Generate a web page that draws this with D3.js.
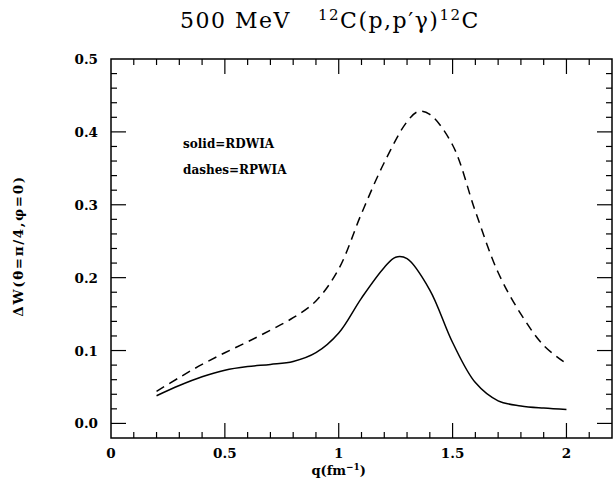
<!DOCTYPE html>
<meta charset="utf-8">
<style>
body { margin: 0; background: #fff; }
svg text { fill: #000; }
.tick-label { font: 600 13.5px "DejaVu Serif", serif; }
.axis-title { font: bold 13px "DejaVu Serif", serif; }
.legend { font: bold 12px "DejaVu Serif", serif; }
.title { font: 22px "DejaVu Serif", serif; letter-spacing: 1.5px; }
</style>
<body>
<script src="https://d3js.org/d3.v7.min.js"></script>
<script>

// values
var qSolid = [0.2, 0.3, 0.4, 0.5, 0.6, 0.7, 0.8, 0.9, 1.0, 1.1, 1.2, 1.25, 1.3, 1.4, 1.5, 1.6, 1.7, 1.8, 1.9, 2.0];
var rdwia  = [0.038, 0.052, 0.064, 0.073, 0.078, 0.081, 0.085, 0.097, 0.124, 0.172, 0.214, 0.228, 0.226, 0.183, 0.111, 0.056, 0.031, 0.024, 0.021, 0.019];

var qDash = [0.2, 0.3, 0.4, 0.5, 0.6, 0.7, 0.8, 0.9, 1.0, 1.1, 1.2, 1.3, 1.35, 1.4, 1.5, 1.6, 1.7, 1.8, 1.9, 2.0];
var rpwia = [0.044, 0.063, 0.081, 0.097, 0.112, 0.128, 0.145, 0.168, 0.212, 0.288, 0.358, 0.414, 0.428, 0.424, 0.382, 0.291, 0.207, 0.150, 0.107, 0.082];

var xTicks = [0, 0.5, 1, 1.5, 2];
var xTickLabels = ["0", "0.5", "1", "1.5", "2"];
var yTicks = [0, 0.1, 0.2, 0.3, 0.4, 0.5];
var yTickLabels = ["0.0", "0.1", "0.2", "0.3", "0.4", "0.5"];

var W = 613, H = 482;
var pLeft = 111, pRight = 612, pTop = 59, pBottom = 438;

var x = d3.scaleLinear().domain([0, 2.2]).range([pLeft, pRight]);
var y = d3.scaleLinear().domain([-0.02, 0.5]).range([pBottom, pTop]);

var svg = d3.select("body").append("svg")
    .attr("width", W)
    .attr("height", H);

// frame
svg.append("rect")
    .attr("x", pLeft).attr("y", pTop)
    .attr("width", pRight - pLeft).attr("height", pBottom - pTop)
    .attr("fill", "none").attr("stroke", "#000").attr("stroke-width", 1.5);

// ticks, inward on all four sides
var xMinor = d3.range(0, 2.2001, 0.1).map(function(d) { return +d.toFixed(2); });
var yMinor = d3.range(-0.02, 0.5001, 0.02).map(function(d) { return +d.toFixed(2); });
function isMajor(v, step) { return Math.abs(v / step - Math.round(v / step)) < 1e-6; }

var ticks = svg.append("g").attr("stroke", "#000").attr("stroke-width", 1.2);
xMinor.forEach(function(v) {
  if (v <= 0 || v >= 2.2) return;
  var len = isMajor(v, 0.5) ? 15 : 6;
  ticks.append("line").attr("x1", x(v)).attr("x2", x(v)).attr("y1", pBottom).attr("y2", pBottom - len);
  ticks.append("line").attr("x1", x(v)).attr("x2", x(v)).attr("y1", pTop).attr("y2", pTop + len);
});
yMinor.forEach(function(v) {
  if (v <= -0.02 || v >= 0.5) return;
  var len = isMajor(v, 0.1) ? 15 : 6;
  ticks.append("line").attr("x1", pLeft).attr("x2", pLeft + len).attr("y1", y(v)).attr("y2", y(v));
  ticks.append("line").attr("x1", pRight).attr("x2", pRight - len).attr("y1", y(v)).attr("y2", y(v));
});

// tick labels
svg.selectAll(".xl")
    .data(xTicks)
  .enter().append("text")
    .attr("class", "tick-label")
    .attr("x", function(d) { return x(d); })
    .attr("y", 458)
    .attr("text-anchor", "middle")
    .text(function(d, i) { return xTickLabels[i]; });

svg.selectAll(".yl")
    .data(yTicks)
  .enter().append("text")
    .attr("class", "tick-label")
    .attr("x", 98)
    .attr("y", function(d) { return y(d) + 5; })
    .attr("text-anchor", "end")
    .text(function(d, i) { return yTickLabels[i]; });

// curves
var line = d3.line()
    .x(function(d) { return x(d[0]); })
    .y(function(d) { return y(d[1]); })
    .curve(d3.curveCatmullRom.alpha(0.5));

svg.append("path")
    .attr("d", line(d3.zip(qSolid, rdwia)))
    .attr("fill", "none").attr("stroke", "#000").attr("stroke-width", 1.5);

svg.append("path")
    .attr("d", line(d3.zip(qDash, rpwia)))
    .attr("fill", "none").attr("stroke", "#000").attr("stroke-width", 1.5)
    .attr("stroke-dasharray", "9,6");

// legend text
svg.append("text").attr("class", "legend").attr("x", 183).attr("y", 148).text("solid=RDWIA");
svg.append("text").attr("class", "legend").attr("x", 183).attr("y", 174).text("dashes=RPWIA");

// axis titles
var xt = svg.append("text").attr("class", "axis-title")
    .attr("x", x(1)).attr("y", 475).attr("text-anchor", "middle");
xt.append("tspan").text("q(fm");
xt.append("tspan").attr("dy", -5).attr("font-size", 9).text("\u22121");
xt.append("tspan").attr("dy", 5).text(")");

svg.append("text").attr("class", "axis-title")
    .attr("transform", "translate(23,246) rotate(-90)")
    .attr("text-anchor", "middle")
    .style("font-size", "13.5px")
    .style("letter-spacing", "1.6px")
    .text("\u0394W(\u03b8=\u03c0/4,\u03c6=0)");

// title
var t = svg.append("text").attr("class", "title").attr("y", 28);
t.append("tspan").attr("x", 180).text("500 MeV");
t.append("tspan").attr("x", 318).attr("dy", -8).attr("font-size", 15).text("12");
t.append("tspan").attr("dy", 8).text("C(p,p\u2032\u03b3)");
t.append("tspan").attr("dy", -8).attr("font-size", 15).text("12");
t.append("tspan").attr("dy", 8).text("C");

</script>
</body>
